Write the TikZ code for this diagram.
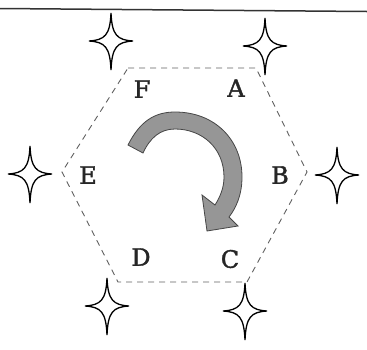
\documentclass[tikz,border=0pt]{standalone}
\usepackage{fontspec}
\newfontfamily\lblfont[FakeBold=1.6]{DejaVu Serif}
\definecolor{hexgray}{RGB}{95,95,95}
\definecolor{arrowfill}{RGB}{150,150,150}
\definecolor{arrowline}{RGB}{70,70,70}
\tikzset{
  starline/.style={line width=1.3pt, black, fill=white, line join=miter},
  hexline/.style={hexgray, line width=0.9pt, dash pattern=on 6pt off 5pt},
  lbl/.style={font=\lblfont\fontsize{24}{24}\selectfont, inner sep=0pt, text=black!85},
  fourstar/.pic={
    \draw[starline] (0,-28) .. controls (1,-6) and (6,-1) .. (22,0)
      .. controls (6,1) and (1,6) .. (0,29)
      .. controls (-1,6) and (-6,1) .. (-22,0)
      .. controls (-6,-1) and (-1,-6) .. cycle;
  }
}
\begin{document}
\begin{tikzpicture}[x=1pt,y=-1pt]
\useasboundingbox (0,0) rectangle (367,349);
% top rule
\draw[line width=1.5pt, black!80] (0,8.5) -- (367,11.5);
% hexagon
\coordinate (hA) at (256,68);
\coordinate (hB) at (307,172);
\coordinate (hC) at (247,282);
\coordinate (hD) at (118,282);
\coordinate (hE) at (62,172);
\coordinate (hF) at (128,68);
\draw[hexline] (hF) -- (hA) -- (hB) -- (hC) -- (hD) -- (hE) -- cycle;
% curved arrow
\filldraw[fill=arrowfill, draw=arrowline, line width=0.8pt, line join=miter]
  (128,145) .. controls (140,121) and (155,112) .. (175,112)
  .. controls (215,112) and (242,140) .. (242,177)
  .. controls (242,195) and (236,208) .. (229,217)
  -- (238,226) -- (207,231) -- (202,195) -- (215,205)
  .. controls (220,197) and (224,188) .. (224,177)
  .. controls (224,148) and (202,129) .. (175,129)
  .. controls (160,129) and (150,138) .. (143,153) -- cycle;
% labels
\node[lbl] (lA) at (236,88) {A};
\node[lbl] (lB) at (280,175) {B};
\node[lbl] (lC) at (230,259) {C};
\node[lbl] (lD) at (141,257) {D};
\node[lbl] (lE) at (88,175) {E};
\node[lbl] (lF) at (142,89) {F};
% stars
\pic at (111,41) {fourstar};
\pic at (265,46) {fourstar};
\pic at (30,174) {fourstar};
\pic at (337,175) {fourstar};
\pic at (107,306) {fourstar};
\pic at (245,311) {fourstar};
\end{tikzpicture}
\end{document}
